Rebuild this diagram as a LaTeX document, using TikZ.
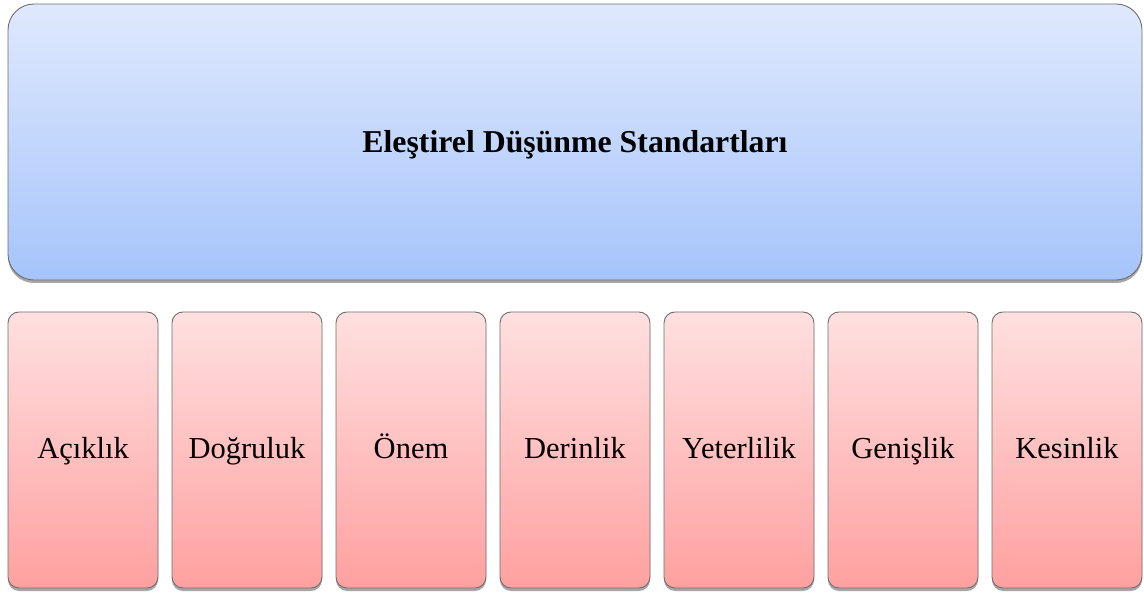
\documentclass[tikz,border=0pt]{standalone}
\usepackage{fontspec}
\setmainfont{Liberation Serif}
\usetikzlibrary{shadows}
\definecolor{topA}{HTML}{DFE9FD}
\definecolor{topB}{HTML}{A6C4FB}
\definecolor{pinkA}{HTML}{FFE0E0}
\definecolor{pinkB}{HTML}{FFA0A0}
\definecolor{edgegray}{HTML}{6E6E6E}
\begin{document}
\begin{tikzpicture}[x=1pt,y=1pt,
  headbox/.style={draw=edgegray, line width=0.9pt, rounded corners=26pt,
    top color=topA, bottom color=topB, minimum width=1134pt, minimum height=276pt,
    inner sep=0pt, text height=28pt, text depth=6pt,
    font=\fontsize{31.8}{36}\selectfont\bfseries,
    drop shadow={shadow xshift=0pt, shadow yshift=-3pt, opacity=0.35, fill=black}},
  itembox/.style={draw=edgegray, line width=0.9pt, rounded corners=11pt,
    top color=pinkA, bottom color=pinkB, minimum width=150pt, minimum height=276pt,
    inner sep=0pt, text height=22pt, text depth=6pt,
    font=\fontsize{30.5}{34}\selectfont,
    drop shadow={shadow xshift=0pt, shadow yshift=-3pt, opacity=0.35, fill=black}}]
\useasboundingbox (0,0) rectangle (1144,-596);
\node[headbox] (head) at (575,-142) {Eleştirel Düşünme Standartları};
\node[itembox] (b1) at (83,-450) {Açıklık};
\node[itembox] (b2) at (247,-450) {Doğruluk};
\node[itembox] (b3) at (411,-450) {Önem};
\node[itembox] (b4) at (575,-450) {Derinlik};
\node[itembox] (b5) at (739,-450) {Yeterlilik};
\node[itembox] (b6) at (903,-450) {Genişlik};
\node[itembox] (b7) at (1067,-450) {Kesinlik};
\end{tikzpicture}
\end{document}
